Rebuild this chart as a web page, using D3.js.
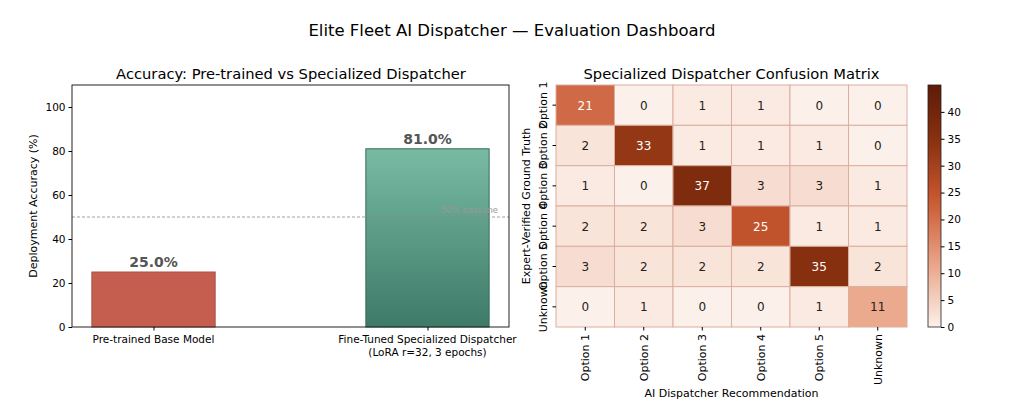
<!DOCTYPE html>
<html>
<head>
<meta charset="utf-8">
<script src="https://cdn.jsdelivr.net/npm/d3@7"></script>
<style>
  body { margin: 0; background: #fff; }
  svg { font-family: "DejaVu Sans", sans-serif; }
  .tick text { font-family: "DejaVu Sans", sans-serif; fill: #000; }
</style>
</head>
<body>
<script>
const width = 1024,
      height = 409;

// bar chart data
const barCategories = [["Pre-trained Base Model"], ["Fine-Tuned Specialized Dispatcher", "(LoRA r=32, 3 epochs)"]];
const barValues = [25.0, 81.0];
const accuracyTicks = [0, 20, 40, 60, 80, 100];
const baseline = 50;

// confusion matrix data
const classNames = ["Option 1", "Option 2", "Option 3", "Option 4", "Option 5", "Unknown"];
const confusion = [
  [21, 0, 1, 1, 0, 0],
  [2, 33, 1, 1, 1, 0],
  [1, 0, 37, 3, 3, 1],
  [2, 2, 3, 25, 1, 1],
  [3, 2, 2, 2, 35, 2],
  [0, 1, 0, 0, 1, 11]
];
const colorbarTicks = [0, 5, 10, 15, 20, 25, 30, 35, 40];
const colorMax = 45;

const svg = d3.select("body").append("svg")
    .attr("width", width)
    .attr("height", height);

const defs = svg.append("defs");
const grad = defs.append("linearGradient")
    .attr("id", "greenGrad")
    .attr("x1", 0).attr("y1", 0).attr("x2", 0).attr("y2", 1);
grad.append("stop").attr("offset", "0%").attr("stop-color", "#78bba3");
grad.append("stop").attr("offset", "100%").attr("stop-color", "#3e7a68");

svg.append("text")
    .attr("x", 512).attr("y", 36)
    .attr("text-anchor", "middle")
    .style("font-size", "16.5px")
    .text("Elite Fleet AI Dispatcher — Evaluation Dashboard");

// ---------- left panel: accuracy bars ----------
const left = {x0: 72, x1: 509, y0: 85, y1: 327};

const x = d3.scaleLinear().domain([-0.2975, 1.2975]).range([left.x0, left.x1]);
const y = d3.scaleLinear().domain([0, 110]).range([left.y1, left.y0]);
const barWidth = 0.45;

const barPanel = svg.append("g");

barPanel.selectAll(".bar")
  .data(barValues)
  .enter().append("rect")
    .attr("class", "bar")
    .attr("x", (d, i) => x(i - barWidth / 2))
    .attr("y", d => y(d))
    .attr("width", x(barWidth) - x(0))
    .attr("height", d => y(0) - y(d))
    .attr("fill", (d, i) => i === 0 ? "#c65e4f" : "url(#greenGrad)")
    .attr("stroke", (d, i) => i === 0 ? "#a65446" : "#3a6a5c")
    .attr("stroke-width", 1);

barPanel.selectAll(".bar-label")
  .data(barValues)
  .enter().append("text")
    .attr("x", (d, i) => x(i))
    .attr("y", d => y(d) - 5)
    .attr("text-anchor", "middle")
    .style("font-size", "14px")
    .style("font-weight", "bold")
    .attr("fill", "#555")
    .text(d => d.toFixed(1) + "%");

barPanel.append("line")
    .attr("x1", left.x0).attr("x2", left.x1)
    .attr("y1", y(baseline)).attr("y2", y(baseline))
    .attr("stroke", "#888")
    .attr("stroke-width", 0.8)
    .attr("stroke-dasharray", "3,2");

barPanel.append("text")
    .attr("x", left.x1 - 11).attr("y", y(baseline) - 4)
    .attr("text-anchor", "end")
    .style("font-size", "8.5px")
    .attr("fill", "#999")
    .text("50% baseline");

// frame
barPanel.append("rect")
    .attr("x", left.x0).attr("y", left.y0)
    .attr("width", left.x1 - left.x0).attr("height", left.y1 - left.y0)
    .attr("fill", "none").attr("stroke", "#222").attr("stroke-width", 1);

const yAxis = barPanel.append("g")
    .attr("transform", `translate(${left.x0},0)`)
    .call(d3.axisLeft(y).tickValues(accuracyTicks).tickSize(3.5).tickPadding(3));
yAxis.select(".domain").remove();
yAxis.selectAll("text").style("font-size", "10.5px");

const xAxis = barPanel.append("g")
    .attr("transform", `translate(0,${left.y1})`)
    .call(d3.axisBottom(x).tickValues([0, 1]).tickSize(3.5).tickFormat(""));
xAxis.select(".domain").remove();

barPanel.selectAll(".xlab")
  .data(barCategories)
  .enter().append("text")
    .attr("class", "xlab")
    .attr("x", (d, i) => x(i))
    .attr("y", left.y1 + 16)
    .attr("text-anchor", "middle")
    .style("font-size", "10.5px")
    .selectAll("tspan")
    .data(d => d)
    .enter().append("tspan")
      .attr("x", function() { return d3.select(this.parentNode).attr("x"); })
      .attr("dy", (d, i) => i === 0 ? 0 : 12.5)
      .text(d => d);

barPanel.append("text")
    .attr("transform", `translate(37,${(left.y0 + left.y1) / 2}) rotate(-90)`)
    .attr("text-anchor", "middle")
    .style("font-size", "11px")
    .text("Deployment Accuracy (%)");

barPanel.append("text")
    .attr("x", (left.x0 + left.x1) / 2 + 0.5).attr("y", 79)
    .attr("text-anchor", "middle")
    .style("font-size", "14.7px")
    .text("Accuracy: Pre-trained vs Specialized Dispatcher");

// ---------- right panel: confusion matrix ----------
const hm = {x0: 556, x1: 907, y0: 85, y1: 327};

const cx = d3.scaleBand().domain(classNames).range([hm.x0, hm.x1]);
const cy = d3.scaleBand().domain(classNames).range([hm.y0, hm.y1]);
const color = d3.scaleLinear()
    .domain([0, 12, 24, 35, colorMax])
    .range(["#fcf1ea", "#e9a286", "#c7562f", "#87300f", "#5e1b08"])
    .clamp(true);

const hmPanel = svg.append("g");

const cells = [];
confusion.forEach((row, r) => row.forEach((v, c) => cells.push({r, c, v})));

hmPanel.selectAll(".cell")
  .data(cells)
  .enter().append("rect")
    .attr("class", "cell")
    .attr("x", d => cx(classNames[d.c]))
    .attr("y", d => cy(classNames[d.r]))
    .attr("width", cx.bandwidth())
    .attr("height", cy.bandwidth())
    .attr("fill", d => color(d.v))
    .attr("stroke", "#dcae9e")
    .attr("stroke-width", 1);

hmPanel.selectAll(".annot")
  .data(cells)
  .enter().append("text")
    .attr("x", d => cx(classNames[d.c]) + cx.bandwidth() / 2)
    .attr("y", d => cy(classNames[d.r]) + cy.bandwidth() / 2 + 4.5)
    .attr("text-anchor", "middle")
    .style("font-size", "12px")
    .attr("fill", d => d.v > 18 ? "#fff" : "#222")
    .text(d => d.v);

const hmX = hmPanel.append("g")
    .attr("transform", `translate(0,${hm.y1})`)
    .call(d3.axisBottom(cx).tickSize(3.5).tickPadding(3));
hmX.select(".domain").remove();
hmX.selectAll("text")
    .style("font-size", "11px")
    .attr("text-anchor", "end")
    .attr("transform", "rotate(-90)")
    .attr("x", -7).attr("y", 0).attr("dy", "0.35em");

const hmY = hmPanel.append("g")
    .attr("transform", `translate(${hm.x0},0)`)
    .call(d3.axisLeft(cy).tickSize(3.5).tickPadding(3));
hmY.select(".domain").remove();
hmY.selectAll("text")
    .style("font-size", "11px")
    .attr("text-anchor", "middle")
    .attr("transform", "rotate(-90)")
    .attr("x", 0).attr("y", -9).attr("dy", 0);

hmPanel.append("text")
    .attr("transform", `translate(530,${(hm.y0 + hm.y1) / 2}) rotate(-90)`)
    .attr("text-anchor", "middle")
    .style("font-size", "11px")
    .text("Expert-Verified Ground Truth");

hmPanel.append("text")
    .attr("x", (hm.x0 + hm.x1) / 2).attr("y", 397)
    .attr("text-anchor", "middle")
    .style("font-size", "11px")
    .text("AI Dispatcher Recommendation");

hmPanel.append("text")
    .attr("x", (hm.x0 + hm.x1) / 2).attr("y", 79)
    .attr("text-anchor", "middle")
    .style("font-size", "14.7px")
    .text("Specialized Dispatcher Confusion Matrix");

// colorbar
const cb = {x0: 928, x1: 941, y0: 85, y1: 327};
const cbScale = d3.scaleLinear().domain([0, colorMax]).range([cb.y1, cb.y0]);
const cbGrad = defs.append("linearGradient")
    .attr("id", "cbGrad")
    .attr("x1", 0).attr("y1", 1).attr("x2", 0).attr("y2", 0);
d3.range(0, colorMax + 0.01, colorMax / 20).forEach(v => {
  cbGrad.append("stop")
    .attr("offset", (v / colorMax * 100) + "%")
    .attr("stop-color", color(v));
});
hmPanel.append("rect")
    .attr("x", cb.x0).attr("y", cb.y0)
    .attr("width", cb.x1 - cb.x0).attr("height", cb.y1 - cb.y0)
    .attr("fill", "url(#cbGrad)")
    .attr("stroke", "#222").attr("stroke-width", 0.8);
const cbAxis = hmPanel.append("g")
    .attr("transform", `translate(${cb.x1},0)`)
    .call(d3.axisRight(cbScale).tickValues(colorbarTicks).tickSize(3.5).tickPadding(3));
cbAxis.select(".domain").remove();
cbAxis.selectAll("text").style("font-size", "10.5px");
</script>
</body>
</html>
